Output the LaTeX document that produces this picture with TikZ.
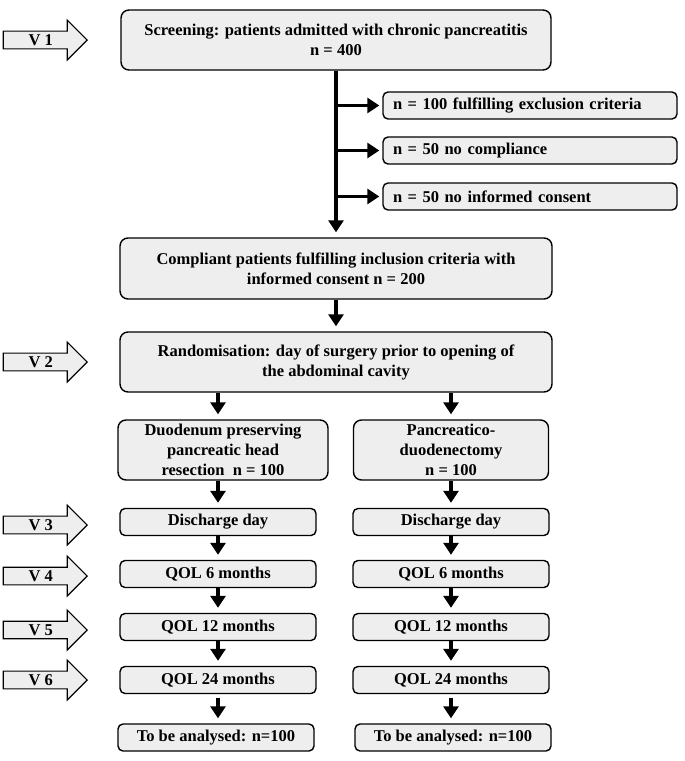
\documentclass[tikz,border=0pt]{standalone}
\usepackage{fontspec}
\setmainfont{Liberation Serif}
\usetikzlibrary{arrows.meta,positioning,shapes.arrows}
\definecolor{boxgray}{RGB}{238,238,238}

\begin{document}
\begin{tikzpicture}[
  x=1pt, y=-1pt,
  font=\fontsize{16.5}{20}\selectfont\bfseries,
  box/.style={draw, line width=1.4pt, rounded corners=8pt, fill=boxgray, align=center, inner xsep=4pt, inner ysep=0pt},
  sidebox/.style={box, rounded corners=5pt, align=left, text width=274pt, inner xsep=10pt, minimum height=27pt},
  smallbox/.style={box, rounded corners=5pt, minimum width=196pt, minimum height=27pt},
  visit/.style={draw, line width=1.2pt, fill=boxgray, single arrow, single arrow head extend=9pt,
    minimum height=84pt, minimum width=40pt, inner sep=1pt, anchor=tip},
  arr/.style={-{Triangle[width=15pt,length=12pt]}, line width=3.5pt, shorten >=5pt}
]
  \useasboundingbox (0,0) rectangle (685,761);

  \node[box, minimum width=430pt, minimum height=60pt] (scr) at (336,40) {Screening: patients admitted with chronic pancreatitis\\n = 400};
  \node[sidebox] (ex1) at (530,105.5) {n = 100 fulfilling exclusion criteria};
  \node[sidebox] (ex2) at (530,150.5) {n = 50 no compliance};
  \node[sidebox] (ex3) at (530,196.5) {n = 50 no informed consent};
  \node[box, minimum width=432pt, minimum height=61pt] (comp) at (336,268.5) {Compliant patients fulfilling inclusion criteria with\\informed consent n = 200};
  \node[box, minimum width=432pt, minimum height=60pt] (rand) at (336,362) {Randomisation: day of surgery prior to opening of\\the abdominal cavity};

  \node[box, minimum width=210pt, minimum height=60pt] (dpp) at (223,450) {Duodenum preserving\\pancreatic head\\resection~~n = 100};
  \node[box, minimum width=195pt, minimum height=60pt] (pd) at (451,450) {Pancreatico-\\duodenectomy\\n = 100};

  \node[smallbox] (dis1) at (218,522) {Discharge day};
  \node[smallbox] (q6a) at (218,574) {QOL 6 months};
  \node[smallbox] (q12a) at (218,627) {QOL 12 months};
  \node[smallbox] (q24a) at (218,680) {QOL 24 months};
  \node[smallbox] (ana) at (216,737.5) {To be analysed: n=100};

  \node[smallbox] (dis2) at (451,522) {Discharge day};
  \node[smallbox] (q6b) at (451,574) {QOL 6 months};
  \node[smallbox] (q12b) at (451,627) {QOL 12 months};
  \node[smallbox] (q24b) at (451,680) {QOL 24 months};
  \node[smallbox] (anb) at (453,737.5) {To be analysed: n=100};

  \node[visit] (v1) at (88,40) {V 1};
  \node[visit] (v2) at (88,362) {V 2};
  \node[visit] (v3) at (88,525) {V 3};
  \node[visit] (v4) at (88,576) {V 4};
  \node[visit] (v5) at (88,630) {V 5};
  \node[visit] (v6) at (88,680) {V 6};

  \draw[arr] (scr.south) -- (scr.south |- comp.north);
  \foreach \e in {ex1,ex2,ex3}
    \draw[arr, shorten >=3pt] (scr.south |- \e.west) -- (\e.west);
  \draw[arr] (comp.south) -- (comp.south |- rand.north);
  \draw[arr] (rand.south -| dis1.north) -- (dis1.north |- dpp.north);
  \draw[arr] (rand.south -| dis2.north) -- (dis2.north |- pd.north);
  \draw[arr] (dpp.south -| dis1.north) -- (dis1.north);
  \draw[arr] (pd.south -| dis2.north) -- (dis2.north);
  \foreach \a/\b in {dis1/q6a, q6a/q12a, q12a/q24a, dis2/q6b, q6b/q12b, q12b/q24b}
    \draw[arr] (\a.south) -- (\b.north);
  \draw[arr, shorten <=4pt] (q24a.south) -- (q24a.south |- ana.north);
  \draw[arr, shorten <=4pt] (q24b.south) -- (q24b.south |- anb.north);
\end{tikzpicture}
\end{document}
